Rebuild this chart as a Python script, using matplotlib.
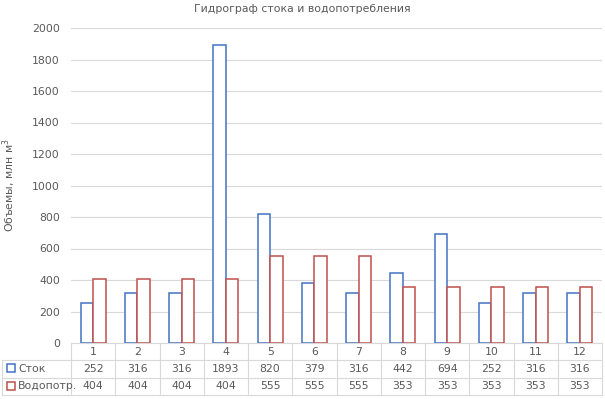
import matplotlib.pyplot as plt
import matplotlib.transforms as mtransforms
import numpy as np

months = [str(i) for i in range(1, 13)]
stok = [252, 316, 316, 1893, 820, 379, 316, 442, 694, 252, 316, 316]
vodopotr = [404, 404, 404, 404, 555, 555, 555, 353, 353, 353, 353, 353]
series_names = ['Сток', 'Водопотр.']
series_colors = ['#4472C4', '#C0504D']

text_col = '#595959'
grid_col = '#D9D9D9'

fig = plt.figure(figsize=(6.05, 3.99), dpi=100)
ax = fig.add_axes([71 / 605, 1 - 343 / 399, 531 / 605, 315 / 399])

x = np.arange(1, 13)
w = 0.285
ax.bar(x - w / 2, stok, w, facecolor='white', edgecolor=series_colors[0], linewidth=1.1, zorder=3)
ax.bar(x + w / 2, vodopotr, w, facecolor='white', edgecolor=series_colors[1], linewidth=1.1, zorder=3)

ax.set_xlim(0.5, 12.5)
ax.set_ylim(0, 2000)
ax.set_yticks(range(0, 2001, 200))
ax.yaxis.grid(True, color=grid_col, linewidth=0.8)
ax.set_axisbelow(True)
ax.tick_params(axis='y', length=0, labelsize=7.8, labelcolor=text_col, pad=8)
ax.set_xticks([])
for s in ['top', 'right', 'left']:
    ax.spines[s].set_visible(False)
ax.spines['bottom'].set_color(grid_col)

fig.text(9 / 605, 1 - 185 / 399, 'Объемы, млн м$^3$', rotation=90, ha='center', va='center',
         fontsize=7.8, color=text_col)
fig.text(0.5, 0.977, 'Гидрограф стока и водопотребления', ha='center', va='center',
         fontsize=7.8, color=text_col)

# data table under the axis
trans = mtransforms.blended_transform_factory(ax.transData, ax.transAxes)
rh = 17.3 / 315
lw = 0.8
left_fig = ax.transAxes.inverted().transform(fig.transFigure.transform((2 / 605, 0)))[0]
for k in [1, 2, 3]:
    ax.plot([left_fig, 1], [-k * rh, -k * rh], transform=ax.transAxes, color=grid_col,
            linewidth=lw, clip_on=False)
for b in np.arange(0.5, 13, 1.0):
    ax.plot([b, b], [0, -3 * rh], transform=trans, color=grid_col, linewidth=lw, clip_on=False)
ax.plot([left_fig, left_fig], [-rh, -3 * rh], transform=ax.transAxes, color=grid_col,
        linewidth=lw, clip_on=False)

for i, m in enumerate(months):
    ax.text(x[i], -0.5 * rh, m, transform=trans, ha='center', va='center',
            fontsize=7.8, color=text_col)
    ax.text(x[i], -1.5 * rh, str(stok[i]), transform=trans, ha='center', va='center',
            fontsize=7.8, color=text_col)
    ax.text(x[i], -2.5 * rh, str(vodopotr[i]), transform=trans, ha='center', va='center',
            fontsize=7.8, color=text_col)

for j, (name, col) in enumerate(zip(series_names, series_colors)):
    yy = 1 - (343 + 17.3 * (j + 1.5)) / 399
    fig.patches.append(plt.Rectangle((7 / 605, yy - 3.5 / 399), 8 / 605, 8 / 399,
                                     facecolor='white', edgecolor=col, linewidth=1.1,
                                     transform=fig.transFigure, figure=fig))
    fig.text(18 / 605, yy, name, ha='left', va='center', fontsize=7.8, color=text_col)

fig.savefig('out.png', dpi=100)
